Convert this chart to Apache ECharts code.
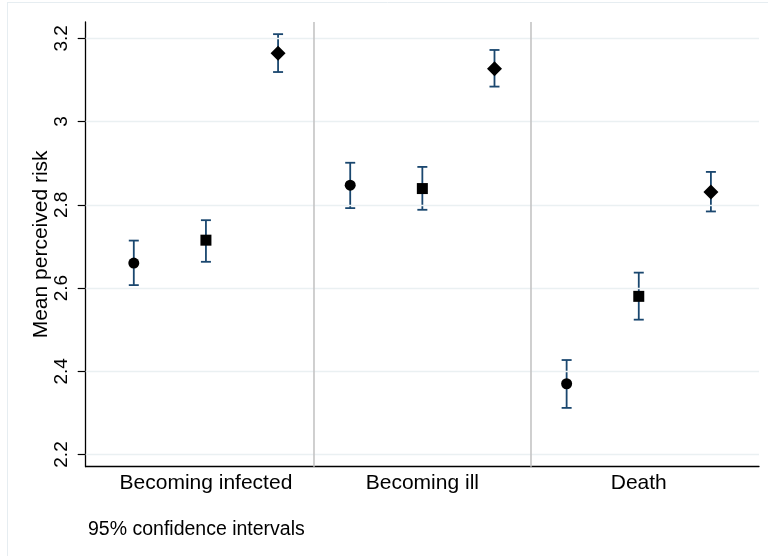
<!DOCTYPE html>
<html>
<head>
<meta charset="utf-8">
<script src="https://cdn.jsdelivr.net/npm/echarts@6/dist/echarts.min.js"></script>
<style>
html,body{margin:0;padding:0;background:#fff;}
#chart{width:768px;height:556px;}
</style>
</head>
<body>
<div id="chart"></div>
<script>
const categories = ['Becoming infected', 'Becoming ill', 'Death'];
// series (marker shape) values per category
const circleMean  = [2.660, 2.847, 2.370];
const circleLow   = [2.607, 2.792, 2.312];
const circleHigh  = [2.714, 2.901, 2.427];
const squareMean  = [2.715, 2.839, 2.580];
const squareLow   = [2.663, 2.788, 2.524];
const squareHigh  = [2.763, 2.891, 2.637];
const diamondMean = [3.164, 3.127, 2.831];
const diamondLow  = [3.119, 3.084, 2.784];
const diamondHigh = [3.210, 3.172, 2.879];
const yTicks = [2.2, 2.4, 2.6, 2.8, 3, 3.2];
const yTickLabels = ['2.2', '2.4', '2.6', '2.8', '3', '3.2'];
const noteText = '95% confidence intervals';
const yTitle = 'Mean perceived risk';

const groups = [
  {mean: circleMean, low: circleLow, high: circleHigh, symbol: 'circle', size: 11},
  {mean: squareMean, low: squareLow, high: squareHigh, symbol: 'rect', size: 11},
  {mean: diamondMean, low: diamondLow, high: diamondHigh, symbol: 'diamond', size: 15}
];
// position of each point on the x axis: group*3 + series + 1
function pos(g, s) { return 1 + g * 3 + s; }
const catCenters = categories.map((c, g) => pos(g, 1));
const separators = [3.5, 6.5];

const FONT = '"Liberation Sans", Arial, sans-serif';
const series = [];

// gridlines + separators
series.push({
  type: 'line', data: [], silent: true,
  markLine: {
    silent: true, symbol: 'none', animation: false,
    label: {show: false},
    lineStyle: {color: '#eaf0f2', type: 'solid', width: 1.3},
    data: yTicks.map(v => ({yAxis: v}))
  },
  z: 1
});
series.push({
  type: 'line', data: [], silent: true,
  markLine: {
    silent: true, symbol: 'none', animation: false,
    label: {show: false},
    lineStyle: {color: '#c4c4c4', type: 'solid', width: 1.6},
    data: separators.map(v => ({xAxis: v}))
  },
  z: 2
});

groups.forEach((gr, s) => {
  const ebData = categories.map((c, g) => [pos(g, s), gr.low[g], gr.high[g]]);
  series.push({
    type: 'custom',
    data: ebData,
    z: 3,
    renderItem: function (params, api) {
      const x = api.value(0), lo = api.value(1), hi = api.value(2);
      const pt = api.coord([x, hi]);
      const pb = api.coord([x, lo]);
      const hw = 5;
      const st = {stroke: '#1a476f', lineWidth: 1.8};
      return {
        type: 'group',
        children: [
          {type: 'line', shape: {x1: pt[0], y1: pt[1], x2: pb[0], y2: pb[1]}, style: st},
          {type: 'line', shape: {x1: pt[0] - hw, y1: pt[1], x2: pt[0] + hw, y2: pt[1]}, style: st},
          {type: 'line', shape: {x1: pb[0] - hw, y1: pb[1], x2: pb[0] + hw, y2: pb[1]}, style: st}
        ]
      };
    }
  });
  series.push({
    type: 'scatter',
    data: categories.map((c, g) => [pos(g, s), gr.mean[g]]),
    symbol: gr.symbol,
    symbolSize: gr.size,
    itemStyle: {color: '#000', opacity: 1},
    z: 5
  });
});

const chart = echarts.init(document.getElementById('chart'), null, {renderer: 'canvas'});
chart.setOption({
  animation: false,
  backgroundColor: '#fff',
  grid: {left: 85.7, right: 9, top: 22, bottom: 89.3, containLabel: false},
  xAxis: {
    type: 'value', min: 1 / 3, max: 29 / 3,
    axisLine: {show: true, onZero: false, lineStyle: {color: '#000', width: 1.3}},
    axisTick: {show: false},
    splitLine: {show: false},
    axisLabel: {
      customValues: catCenters,
      formatter: function (v) {
        const i = catCenters.findIndex(c => Math.abs(c - v) < 1e-6);
        return i >= 0 ? categories[i] : '';
      },
      color: '#000', fontFamily: FONT, fontSize: 21, margin: 6
    }
  },
  yAxis: {
    type: 'value', min: 2.1707, max: 3.2392,
    name: yTitle, nameLocation: 'middle', nameGap: 34, nameRotate: 90,
    nameMoveOverlap: false,
    nameTextStyle: {color: '#000', fontFamily: FONT, fontSize: 21},
    axisLine: {show: true, lineStyle: {color: '#000', width: 1.3}},
    axisTick: {show: true, customValues: yTicks, length: 8, lineStyle: {color: '#000', width: 1.2}},
    splitLine: {show: false},
    axisLabel: {
      customValues: yTicks,
      rotate: 90,
      formatter: function (v) {
        const i = yTicks.findIndex(t => Math.abs(t - v) < 1e-6);
        return i >= 0 ? yTickLabels[i] : '';
      },
      color: '#000', fontFamily: FONT, fontSize: 19, margin: 14
    }
  },
  graphic: [
    {type: 'line', shape: {x1: 7, y1: 2.5, x2: 768, y2: 2.5}, style: {stroke: '#e6edf1', lineWidth: 1}, silent: true},
    {type: 'line', shape: {x1: 7.5, y1: 2, x2: 7.5, y2: 556}, style: {stroke: '#e6edf1', lineWidth: 1}, silent: true},
    {type: 'text', left: 88, top: 520, style: {text: noteText, fill: '#000', font: '19.5px ' + FONT}, silent: true}
  ],
  series: series
});
</script>
</body>
</html>
